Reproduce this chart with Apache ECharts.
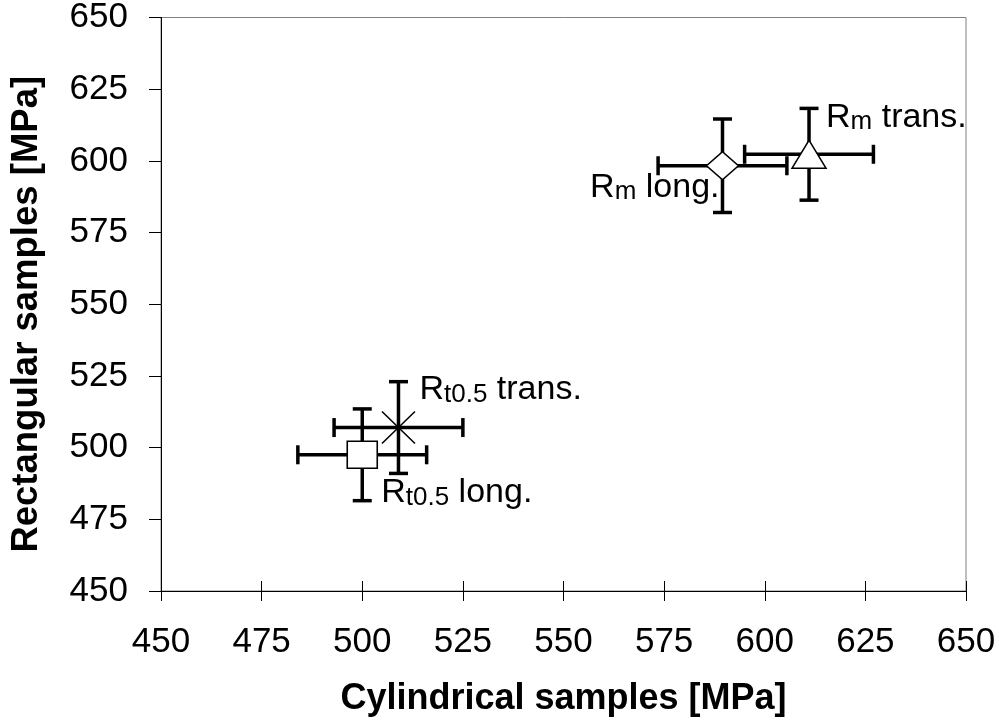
<!DOCTYPE html>
<html><head><meta charset="utf-8">
<script src="https://cdn.jsdelivr.net/npm/echarts@6/dist/echarts.min.js"></script>
<style>html,body{margin:0;padding:0;background:#fff}#c{width:999px;height:722px}</style>
</head><body><div id="c"></div>
<script>
// ---- data ----
const seriesNames = ['Rt0.5 long.', 'Rt0.5 trans.', 'Rm long.', 'Rm trans.'];
const labelTexts = ['{r|R}{s|t0.5}{r| long.}', '{r|R}{s|t0.5}{r| trans.}', '{r|R}{s|m}{r| long.}', '{r|R}{s|m}{r| trans.}'];
const xValues = [500, 509, 589.5, 611];      // cylindrical samples [MPa]
const yValues = [497.5, 507, 598.3, 602.3];  // rectangular samples [MPa]
const xErrors = [16, 16, 16, 16];
const yErrors = [16, 16, 16.3, 16];
const axisMin = 450, axisMax = 650, axisStep = 25;
const xTitle = 'Cylindrical samples [MPa]';
const yTitle = 'Rectangular samples [MPa]';

// ---- presentation ----
const FONT = '"Liberation Sans", Arial, sans-serif';
const symbols = ['rect', 'path://M0 0L10 10M10 0L0 10M5 0L5 10', 'diamond', 'triangle'];
const symbolSizes = [[30, 27], [33, 32], [32, 28], [34, 28]];
const labelAligns = ['left', 'left', 'right', 'left'];
const labelOffsets = [[19, 20], [21, -56], [-3, 3.5], [17, -55]];

const rich = {
  r: {fontSize: 34, fontFamily: FONT, color: '#000', lineHeight: 36, verticalAlign: 'middle'},
  s: {fontSize: 26, fontFamily: FONT, color: '#000', lineHeight: 26, padding: [15, 0, 0, 0], verticalAlign: 'bottom'}
};

const errData = xValues.map((x, i) => [x, yValues[i], xErrors[i], yErrors[i]]);

const scatterData = xValues.map((x, i) => ({
  name: seriesNames[i],
  value: [x, yValues[i]],
  symbol: symbols[i],
  symbolSize: symbolSizes[i],
  itemStyle: i === 1
    ? {color: 'rgba(0,0,0,0)', borderColor: '#000', borderWidth: 1.5, opacity: 1}
    : {color: '#fff', borderColor: '#000', borderWidth: 1.5, opacity: 1},
  label: {
    show: true, position: 'inside', align: labelAligns[i], verticalAlign: 'top',
    offset: labelOffsets[i], formatter: labelTexts[i], rich: rich, color: '#000', opacity: 1
  }
}));

const baseAxis = {
  type: 'value', min: axisMin, max: axisMax, interval: axisStep,
  splitLine: {show: false}
};

const chart = echarts.init(document.getElementById('c'), null, {renderer: 'canvas'});
chart.setOption({
  backgroundColor: '#fff',
  animation: false,
  grid: {left: 161, right: 33, top: 15, bottom: 128, show: true, borderColor: '#808080', borderWidth: 1, backgroundColor: 'transparent'},
  xAxis: [
    Object.assign({}, baseAxis, {
      position: 'bottom',
      axisLine: {show: true, lineStyle: {color: '#000', width: 1}},
      axisTick: {show: true, inside: false, length: 10, lineStyle: {color: '#000', width: 1}},
      axisLabel: {fontSize: 35, fontFamily: FONT, color: '#000', margin: 34},
      name: xTitle, nameLocation: 'middle', nameGap: 90,
      nameTextStyle: {fontSize: 36, fontWeight: 'bold', fontFamily: FONT, color: '#000'}
    }),
    Object.assign({}, baseAxis, {
      position: 'bottom',
      axisLine: {show: false},
      axisTick: {show: true, inside: true, length: 10, lineStyle: {color: '#000', width: 1}},
      axisLabel: {show: false}
    })
  ],
  yAxis: Object.assign({}, baseAxis, {
    axisLine: {show: true, lineStyle: {color: '#000', width: 1}},
    axisTick: {show: true, inside: false, length: 12, lineStyle: {color: '#000', width: 1}},
    axisLabel: {fontSize: 35, fontFamily: FONT, color: '#000', margin: 33},
    name: yTitle, nameLocation: 'middle', nameGap: 116,
    nameTextStyle: {fontSize: 36.5, fontWeight: 'bold', fontFamily: FONT, color: '#000', padding: [0, 20, 0, 0]}
  }),
  series: [
    {
      type: 'custom', name: 'error bars', silent: true, z: 2,
      data: errData, encode: {x: 0, y: 1},
      renderItem: function (params, api) {
        const x = api.value(0), y = api.value(1), xe = api.value(2), ye = api.value(3);
        const l = api.coord([x - xe, y]), r = api.coord([x + xe, y]);
        const t = api.coord([x, y + ye]), b = api.coord([x, y - ye]);
        const cap = 9.5;
        const style = {stroke: '#000', lineWidth: 3.5, fill: null};
        const ln = (x1, y1, x2, y2) => ({type: 'line', shape: {x1, y1, x2, y2}, style});
        return {type: 'group', children: [
          ln(l[0], l[1], r[0], r[1]),
          ln(l[0], l[1] - cap, l[0], l[1] + cap),
          ln(r[0], r[1] - cap, r[0], r[1] + cap),
          ln(t[0], t[1], b[0], b[1]),
          ln(t[0] - cap, t[1], t[0] + cap, t[1]),
          ln(b[0] - cap, b[1], b[0] + cap, b[1])
        ]};
      }
    },
    {
      type: 'scatter', name: 'points', z: 3, silent: true,
      emphasis: {disabled: true},
      data: scatterData
    }
  ]
});
</script>
</body></html>
